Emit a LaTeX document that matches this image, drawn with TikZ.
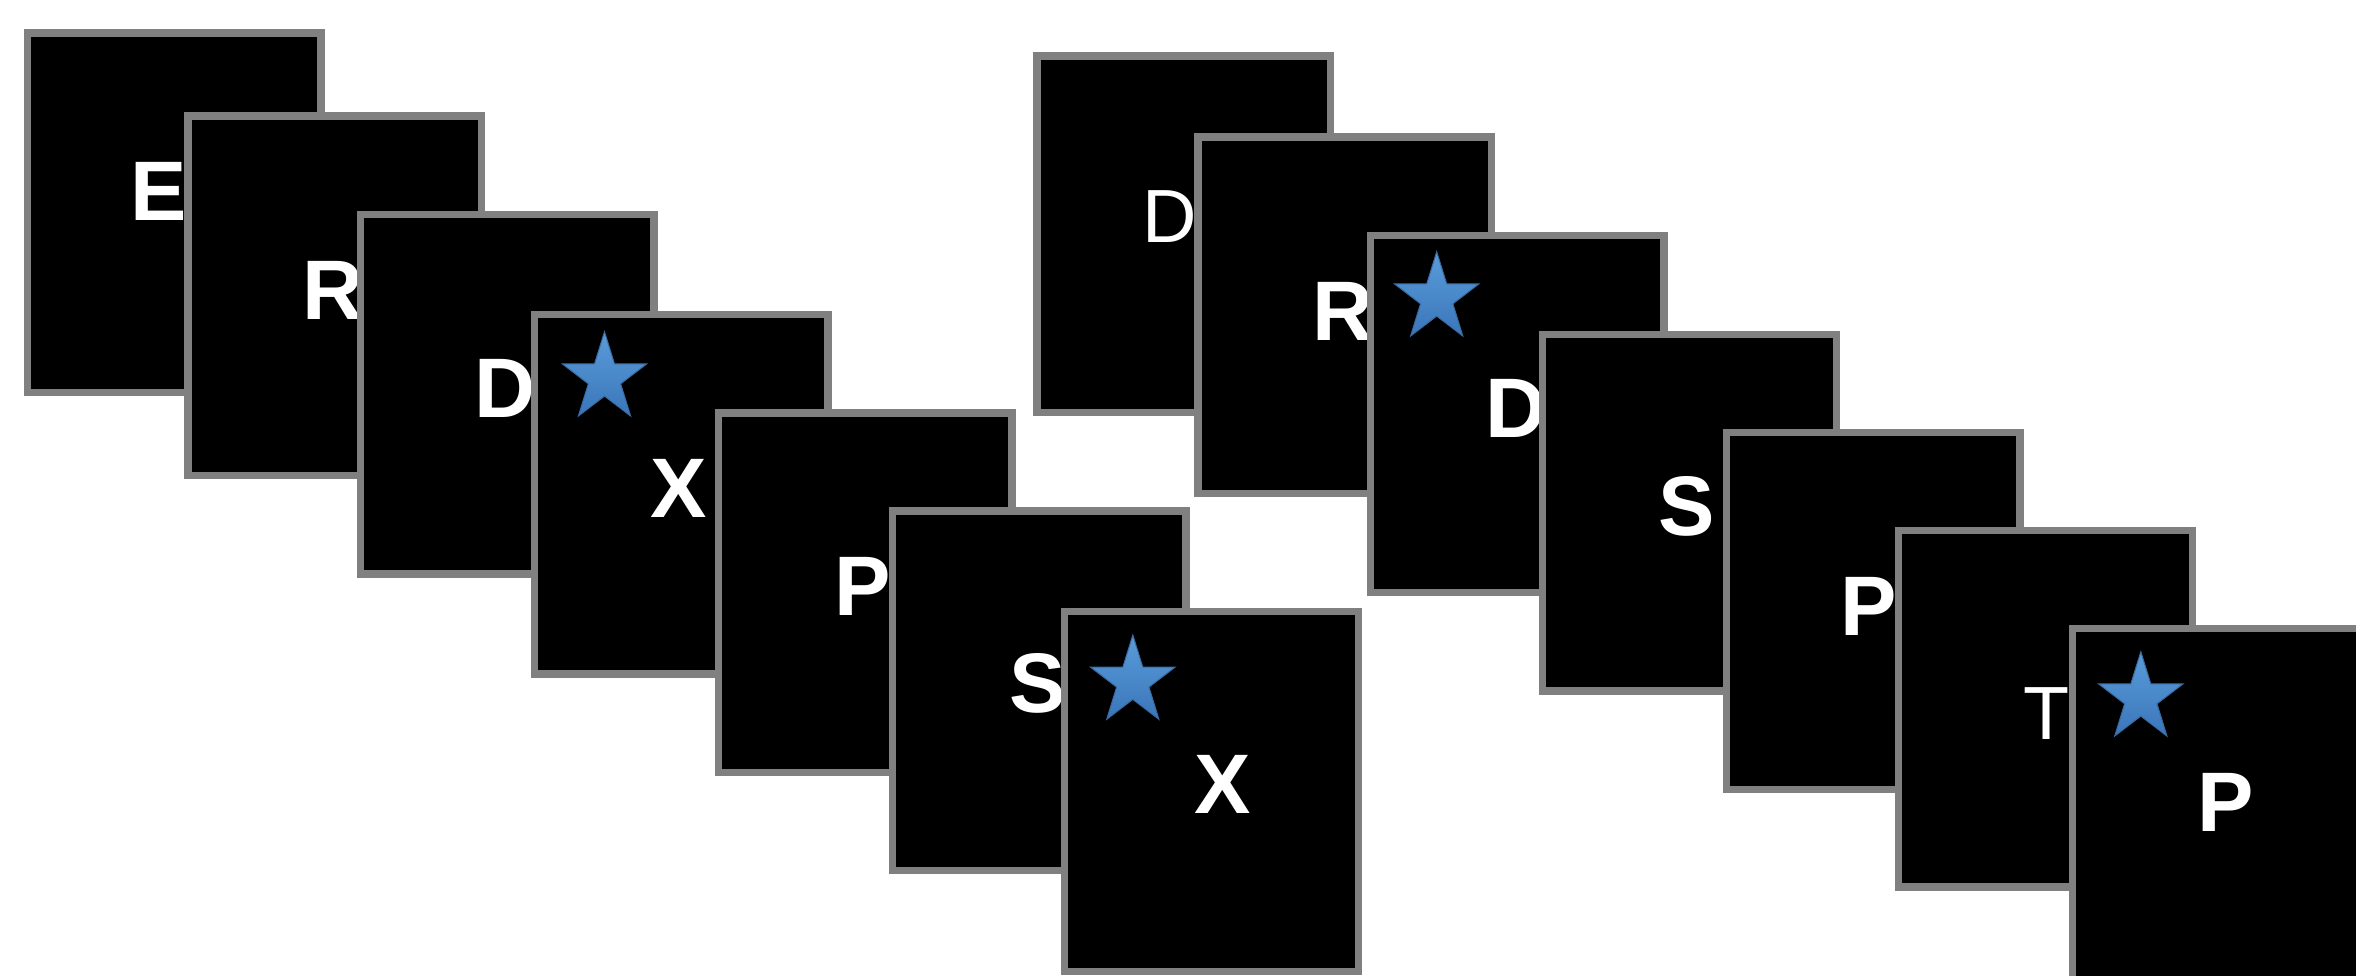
\documentclass[tikz,border=0pt]{standalone}
\usepackage{fontspec}
\setmainfont{Liberation Sans}
\definecolor{cardgray}{RGB}{128,128,128}
\definecolor{startop}{RGB}{90,156,218}
\definecolor{starbot}{RGB}{58,118,186}
\definecolor{starline}{RGB}{58,106,160}
\tikzset{
  cardbase/.style={draw=cardgray, fill=black, line width=3.65pt, inner sep=0pt, outer sep=0pt,
    minimum width=146.85pt, anchor=north west},
  cardL/.style={cardbase, minimum height=179.85pt},
  cardR/.style={cardbase, minimum height=178.35pt},
  bl/.style={text=white, inner sep=0pt, outer sep=0pt, anchor=base,
    font=\fontsize{42.25}{50}\selectfont\bfseries},
  rl/.style={text=white, inner sep=0pt, outer sep=0pt, anchor=base,
    font=\fontsize{37.7}{45}\selectfont},
  starfill/.style={top color=startop, bottom color=starbot, draw=starline, line width=0.5pt, line join=miter}
}
\newcommand\cardL[3]{\node[cardL] (#3) at ({#1+3.65},{#2+3.65}) {};}
\newcommand\cardR[3]{\node[cardR] (#3) at ({#1+3.65},{#2+3.65}) {};}
\newcommand\mystar[2]{%
  \shade[starfill]
  ({#1+44.4*cos(90)},{#2-46.6*sin(90)}) --
  ({#1+17*cos(126)},{#2-17.8*sin(126)}) --
  ({#1+44.4*cos(162)},{#2-46.6*sin(162)}) --
  ({#1+17*cos(198)},{#2-17.8*sin(198)}) --
  ({#1+44.4*cos(234)},{#2-46.6*sin(234)}) --
  ({#1+17*cos(270)},{#2-17.8*sin(270)}) --
  ({#1+44.4*cos(306)},{#2-46.6*sin(306)}) --
  ({#1+17*cos(342)},{#2-17.8*sin(342)}) --
  ({#1+44.4*cos(18)},{#2-46.6*sin(18)}) --
  ({#1+17*cos(54)},{#2-17.8*sin(54)}) -- cycle;}
\begin{document}
\begin{tikzpicture}[x=0.5pt, y=-0.5pt]
\useasboundingbox (0,0) rectangle (2356,975);
\clip (0,0) rectangle (2356,975);
% left sequence
\cardL{23.7}{29.3}{c1}
\node[bl] (l1) at (158.7,220.7) {E};
\cardL{184.3}{112.3}{c2}
\node[bl] (l2) at (333.5,319.3) {R};
\cardL{356.7}{210.7}{c3}
\node[bl] (l3) at (505.1,417.7) {D};
\cardL{530.7}{310.7}{c4}
\mystar{604.5}{378.3}
\node[bl] (l4) at (678.3,517.3) {X};
\cardL{714.7}{409.3}{c5}
\node[bl] (l5) at (862.5,615.3) {P};
\cardL{888.7}{507.3}{c6}
\node[bl] (l6) at (1037.4,712.3) {S};
\cardL{1061}{608}{c7}
\mystar{1132.8}{681.6}
\node[bl] (l7) at (1222.2,813.3) {X};
% right sequence
\cardR{1033.3}{52.3}{c8}
\node[rl] (l8) at (1169.5,242.3) {D};
\cardR{1194.3}{133.3}{c9}
\node[bl] (l9) at (1343.2,340) {R};
\cardR{1366.7}{232}{c10}
\mystar{1436.7}{298.3}
\node[bl] (l10) at (1515.8,437.7) {D};
\cardR{1539}{330.7}{c11}
\node[bl] (l11) at (1686.8,535) {S};
\cardR{1722.5}{428.8}{c12}
\node[bl] (l12) at (1868.5,635) {P};
\cardR{1895}{526.7}{c13}
\node[rl] (l13) at (2046.7,739) {T};
\cardR{2069}{624.5}{c14}
\mystar{2140.8}{698.3}
\node[bl] (l14) at (2226.1,831.7) {P};
\end{tikzpicture}
\end{document}
